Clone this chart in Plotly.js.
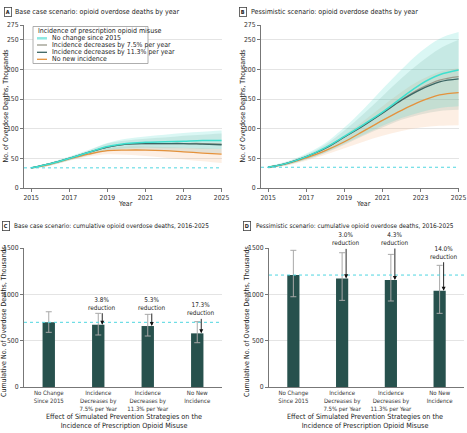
<!DOCTYPE html>
<html>
<head>
<meta charset="utf-8">
<script src="https://cdn.plot.ly/plotly-3.0.1.min.js"></script>
<style>html,body{margin:0;padding:0;background:#fff;}#chart{width:467px;height:433px;}</style>
</head>
<body>
<div id="chart"></div>
<script>
// ---------------- DATA ----------------
const years = [2015, 2016, 2017, 2018, 2019, 2020, 2021, 2022, 2023, 2024, 2025];
const seriesNames = ['No change since 2015', 'Incidence decreases by 7.5% per year', 'Incidence decreases by 11.3% per year', 'No new incidence'];

// Panel A: base case, thousands of deaths
const noChangeA = [34, 41, 50, 60, 70, 75, 77, 78, 79, 80, 80];
const dec75A    = [34, 41, 50, 60, 69, 74, 75, 75, 75, 75, 74];
const dec113A   = [34, 41, 50, 60, 69, 74, 75, 75, 75, 74, 73];
const noNewA    = [34, 40, 49, 57, 63, 64, 64, 63, 61, 59, 57];
const noChangeA_hi = [35, 43, 53, 64, 76, 83, 87, 90, 93, 95, 97];
const noChangeA_lo = [32, 38, 47, 56, 64, 67, 68, 67, 67, 66, 66];
const dec113A_hi   = [35, 42, 52, 63, 75, 80, 83, 85, 88, 90, 92];
const dec113A_lo   = [32, 38, 47, 55, 62, 65, 64, 62, 61, 60, 58];
const noNewA_hi    = [34, 42, 51, 60, 67, 70, 70, 69, 68, 67, 66];
const noNewA_lo    = [32, 38, 46, 53, 57, 56, 54, 51, 48, 45, 42];

// Panel B: pessimistic, thousands of deaths
const noChangeB = [35, 42, 53, 68, 87, 107, 128, 152, 175, 191, 199];
const dec75B    = [35, 42, 53, 67, 86, 106, 127, 149, 168, 182, 188];
const dec113B   = [35, 42, 53, 67, 86, 105, 126, 148, 166, 179, 184];
const noNewB    = [35, 41, 51, 63, 78, 96, 114, 131, 146, 157, 161];
const noChangeB_hi = [37, 45, 58, 76, 102, 133, 167, 200, 230, 252, 263];
const noChangeB_lo = [33, 39, 48, 60, 75, 90, 105, 118, 128, 135, 138];
const dec113B_hi   = [36, 44, 56, 73, 97, 125, 155, 185, 212, 235, 250];
const dec113B_lo   = [33, 39, 48, 59, 73, 88, 102, 115, 124, 130, 132];
const noNewB_hi    = [36, 43, 54, 69, 89, 113, 138, 162, 182, 196, 202];
const noNewB_lo    = [33, 38, 46, 56, 67, 78, 88, 96, 102, 105, 106];

// Panels C & D: cumulative deaths 2016-2025, thousands
const strategies = ['No Change<br>Since 2015', 'Incidence<br>Decreases by<br>7.5% per Year', 'Incidence<br>Decreases by<br>11.3% per Year', 'No New<br>Incidence'];
const cumC    = [698, 672, 658, 579];
const cumC_hi = [812, 795, 784, 705];
const cumC_lo = [590, 561, 550, 478];
const reductionC = ['', '3.8%', '5.3%', '17.3%'];
const cumD    = [1208, 1172, 1154, 1039];
const cumD_hi = [1475, 1449, 1431, 1313];
const cumD_lo = [974, 935, 928, 795];
const reductionD = ['', '3.0%', '4.3%', '14.0%'];

const yTicksLine = [0, 50, 100, 150, 200, 250, 275];
const xTicksLine = [2015, 2017, 2019, 2021, 2023, 2025];
const yTicksBar = [0, 500, 1000, 1500];

// ---------------- STYLE ----------------
const W = 467, H = 433;
const FONT = 'Liberation Sans Narrow, DejaVu Sans Condensed, Roboto, sans-serif';
const C_CYAN = '#3fe0cf', C_GRAY = '#9a9a8c', C_DARK = '#3b6563', C_ORANGE = '#e4923c';
const BAND_CYAN = 'rgba(70,215,200,0.2)', BAND_DARK = 'rgba(90,140,130,0.15)', BAND_ORANGE = 'rgba(245,175,120,0.2)';
const BAR = '#27514d';
const px = x => x / W;
const py = y => 1 - y / H;

const traces = [];
function band(lo, hi, color, xa, ya) {
  traces.push({x: years, y: lo, type: 'scatter', mode: 'lines', line: {width: 0, shape: 'spline'}, hoverinfo: 'skip', showlegend: false, xaxis: xa, yaxis: ya});
  traces.push({x: years, y: hi, type: 'scatter', mode: 'lines', line: {width: 0, shape: 'spline'}, fill: 'tonexty', fillcolor: color, hoverinfo: 'skip', showlegend: false, xaxis: xa, yaxis: ya});
}
function line(y, color, name, xa, ya, w) {
  traces.push({x: years, y: y, type: 'scatter', mode: 'lines', name: name, line: {color: color, width: w || 1.3, shape: 'spline'}, showlegend: false, xaxis: xa, yaxis: ya});
}
band(noNewA_lo, noNewA_hi, BAND_ORANGE, 'x', 'y');
band(dec113A_lo, dec113A_hi, BAND_DARK, 'x', 'y');
band(noChangeA_lo, noChangeA_hi, BAND_CYAN, 'x', 'y');
line(noNewA, C_ORANGE, seriesNames[3], 'x', 'y');
line(dec75A, C_GRAY, seriesNames[1], 'x', 'y');
line(dec113A, C_DARK, seriesNames[2], 'x', 'y');
line(noChangeA, C_CYAN, seriesNames[0], 'x', 'y', 1.5);

band(noNewB_lo, noNewB_hi, BAND_ORANGE, 'x2', 'y2');
band(dec113B_lo, dec113B_hi, BAND_DARK, 'x2', 'y2');
band(noChangeB_lo, noChangeB_hi, BAND_CYAN, 'x2', 'y2');
line(noNewB, C_ORANGE, seriesNames[3], 'x2', 'y2');
line(dec75B, C_GRAY, seriesNames[1], 'x2', 'y2');
line(dec113B, C_DARK, seriesNames[2], 'x2', 'y2');
line(noChangeB, C_CYAN, seriesNames[0], 'x2', 'y2', 1.5);

function bars(vals, hi, lo, xa, ya) {
  traces.push({
    x: strategies, y: vals, type: 'bar', xaxis: xa, yaxis: ya, showlegend: false,
    width: 0.25, marker: {color: BAR, line: {width: 0}},
    error_y: {type: 'data', symmetric: false,
      array: hi.map((v, i) => v - vals[i]), arrayminus: vals.map((v, i) => v - lo[i]),
      color: '#a8a8a8', thickness: 1, width: 3}
  });
}
bars(cumC, cumC_hi, cumC_lo, 'x3', 'y3');
bars(cumD, cumD_hi, cumD_lo, 'x4', 'y4');

// ---------------- LAYOUT ----------------
const tickFont = {family: FONT, size: 6.8, color: '#333'};
function lineXAxis(dom, anchor) {
  return {domain: dom, anchor: anchor, range: [2014.62, 2025.02], tickvals: xTicksLine, ticks: 'outside', ticklen: 3,
    tickcolor: '#777', showline: true, linecolor: '#777', linewidth: 1, showgrid: false, zeroline: false, tickfont: tickFont, fixedrange: true};
}
function lineYAxis(dom, anchor) {
  return {domain: dom, anchor: anchor, range: [0, 275], tickvals: yTicksLine, ticks: 'outside', ticklen: 3,
    tickcolor: '#777', showline: true, linecolor: '#777', linewidth: 1, showgrid: true, gridcolor: '#e4e4e4', gridwidth: 1,
    zeroline: false, tickfont: tickFont, fixedrange: true};
}
function barXAxis(dom, anchor) {
  return {domain: dom, anchor: anchor, type: 'category', ticks: '', showline: true, linecolor: '#777', linewidth: 1,
    showgrid: false, zeroline: false, tickfont: {family: FONT, size: 6, color: '#333'}, fixedrange: true};
}
function barYAxis(dom, anchor) {
  return {domain: dom, anchor: anchor, range: [0, 1500], tickvals: yTicksBar, ticks: 'outside', ticklen: 3,
    tickcolor: '#777', showline: true, linecolor: '#777', linewidth: 1, showgrid: true, gridcolor: '#e4e4e4',
    zeroline: false, tickfont: tickFont, fixedrange: true};
}

const annotations = [];
const shapes = [];
function panelTitle(letter, boxX, textX, y, text, size) {
  annotations.push({xref: 'paper', yref: 'paper', x: px(boxX), y: py(y), text: '<b>' + letter + '</b>', showarrow: false,
    font: {family: FONT, size: 5.5, color: '#222'}, bordercolor: '#444', borderwidth: 0.8, borderpad: 1, xanchor: 'center', yanchor: 'middle'});
  annotations.push({xref: 'paper', yref: 'paper', x: px(textX), y: py(y), text: text, showarrow: false,
    font: {family: FONT, size: size, color: '#222'}, xanchor: 'left', yanchor: 'middle'});
}
panelTitle('A', 7.5, 12.5, 12.5, 'Base case scenario: opioid overdose deaths by year', 7);
panelTitle('B', 242.5, 248.5, 12.5, 'Pessimistic scenario: opioid overdose deaths by year', 7);
panelTitle('C', 6, 12, 226, 'Base case scenario: cumulative opioid overdose deaths, 2016-2025', 6.4);
panelTitle('D', 246.5, 254, 226, 'Pessimistic scenario: cumulative opioid overdose deaths, 2016-2025', 6.4);

function textAnn(x, y, text, angle, size) {
  annotations.push({xref: 'paper', yref: 'paper', x: px(x), y: py(y), text: text, showarrow: false, textangle: angle || 0,
    font: {family: FONT, size: size || 7, color: '#222'}, xanchor: 'center', yanchor: 'middle'});
}
textAnn(5, 106.5, 'No. of Overdose Deaths, Thousands', -90);
textAnn(242, 106.5, 'No. of Overdose Deaths, Thousands', -90);
textAnn(126, 204, 'Year');
textAnn(363, 204, 'Year');
textAnn(4, 322, 'Cumulative No. of Overdose Deaths, Thousands', -90);
textAnn(247, 322, 'Cumulative No. of Overdose Deaths, Thousands', -90);
textAnn(124, 421, 'Effect of Simulated Prevention Strategies on the<br>Incidence of Prescription Opioid Misuse', 0, 7.2);
textAnn(365, 421, 'Effect of Simulated Prevention Strategies on the<br>Incidence of Prescription Opioid Misuse', 0, 7.2);

// reduction arrows
const ayC = [0, -21, -22, -24];
const ayD = [0, -39, -41, -38];
function reductions(red, vals, ay, xa, ya) {
  red.forEach((r, i) => {
    if (!r) return;
    annotations.push({xref: xa, yref: ya, x: strategies[i], y: vals[i], text: r + '<br>reduction', showarrow: true,
      ax: 0, ay: ay[i], xshift: 4, arrowhead: 2, arrowsize: 0.9, arrowwidth: 0.9, arrowcolor: '#111', standoff: 0,
      font: {family: FONT, size: 6.4, color: '#222'}});
  });
}
reductions(reductionC, cumC, ayC, 'x3', 'y3');
reductions(reductionD, cumD, ayD, 'x4', 'y4');

// baseline dashed lines
function baseline(xa, ya, v) {
  shapes.push({type: 'line', xref: xa + ' domain', yref: ya, x0: 0, x1: 1, y0: v, y1: v, line: {color: '#4fd6e0', width: 1, dash: 'dot'}, layer: 'above'});
}
baseline('x', 'y', noChangeA[0]);
baseline('x2', 'y2', noChangeB[0]);
baseline('x3', 'y3', cumC[0]);
baseline('x4', 'y4', cumD[0]);

// manual legend (panel A)
shapes.push({type: 'rect', xref: 'paper', yref: 'paper', x0: px(33), x1: px(148), y0: py(26.5), y1: py(63.5), line: {color: '#999', width: 0.8}, fillcolor: 'rgba(255,255,255,0.95)', layer: 'above'});
annotations.push({xref: 'paper', yref: 'paper', x: px(36), y: py(31), text: 'Incidence of prescription opioid misuse', showarrow: false,
  font: {family: FONT, size: 7, color: '#222'}, xanchor: 'left', yanchor: 'middle'});
const legColors = [C_CYAN, C_GRAY, C_DARK, C_ORANGE];
const legRows = [38.3, 45, 52.3, 59.3];
seriesNames.forEach((n, i) => {
  shapes.push({type: 'line', xref: 'paper', yref: 'paper', x0: px(37), x1: px(47), y0: py(legRows[i]), y1: py(legRows[i]),
    line: {color: i === 0 ? '#8fe8e2' : legColors[i], width: i === 0 ? 2.5 : 1.3}, layer: 'above'});
  annotations.push({xref: 'paper', yref: 'paper', x: px(50), y: py(legRows[i]), text: n, showarrow: false,
    font: {family: FONT, size: 6.9, color: '#222'}, xanchor: 'left', yanchor: 'middle'});
});

const layout = {
  width: W, height: H, margin: {l: 0, r: 0, t: 0, b: 0}, paper_bgcolor: '#fff', plot_bgcolor: '#fff',
  showlegend: false, bargap: 0.75,
  font: {family: FONT, size: 7, color: '#222'},
  xaxis: lineXAxis([px(24), px(222)], 'y'),
  yaxis: lineYAxis([py(188), py(25)], 'x'),
  xaxis2: lineXAxis([px(261), px(459)], 'y2'),
  yaxis2: lineYAxis([py(188), py(25)], 'x2'),
  xaxis3: barXAxis([px(24), px(222)], 'y3'),
  yaxis3: barYAxis([py(387), py(248)], 'x3'),
  xaxis4: barXAxis([px(269), px(464)], 'y4'),
  yaxis4: barYAxis([py(387), py(248)], 'x4'),
  annotations: annotations, shapes: shapes
};
Plotly.newPlot('chart', traces, layout, {displayModeBar: false, staticPlot: true});
</script>
</body>
</html>
